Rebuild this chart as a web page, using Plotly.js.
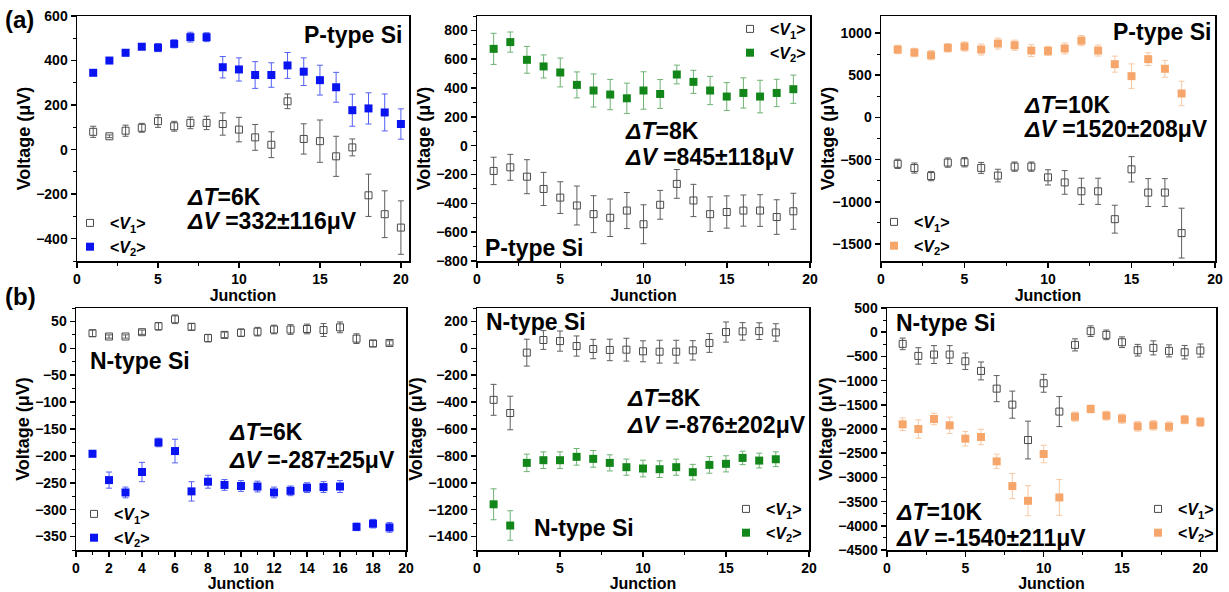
<!DOCTYPE html>
<html><head><meta charset="utf-8">
<script src="https://cdn.plot.ly/plotly-3.0.1.min.js"></script>
<style>html,body{margin:0;padding:0;background:#fff}</style>
</head><body><div id="chart" style="width:1229px;height:592px"></div>
<script>
// ---------- data ----------
const junctionA1 = [1,2,3,4,5,6,7,8,9,10,11,12,13,14,15,16,17,18,19,20];
const a1V1 = [80, 60, 85, 98, 128, 105, 120, 120, 115, 90, 55, 22, 217, 48, 38, -30, 10, -205, -290, -350];
const a1V1err = [25, 6, 25, 20, 28, 22, 26, 30, 50, 55, 58, 58, 33, 68, 95, 90, 38, 95, 105, 120];
const a1V2 = [345, 400, 435, 462, 458, 475, 505, 505, 370, 360, 335, 335, 378, 350, 312, 280, 177, 185, 167, 115];
const a1V2err = [6, 6, 14, 12, 18, 18, 22, 20, 48, 52, 60, 55, 58, 62, 67, 67, 72, 70, 83, 68];

const junctionA2 = [1,2,3,4,5,6,7,8,9,10,11,12,13,14,15,16,17,18,19];
const a2V1 = [-175, -150, -215, -300, -360, -415, -475, -500, -450, -545, -410, -265, -380, -475, -460, -450, -450, -495, -455];
const a2V1err = [95, 90, 118, 115, 110, 135, 128, 130, 125, 135, 100, 100, 112, 120, 112, 108, 110, 120, 125];
const a2V2 = [672, 719, 596, 550, 508, 422, 383, 355, 329, 383, 359, 494, 443, 383, 341, 366, 341, 366, 392];
const a2V2err = [108, 70, 93, 80, 100, 90, 115, 105, 105, 130, 100, 65, 80, 98, 97, 105, 113, 95, 98];

const junctionA3 = [1,2,3,4,5,6,7,8,9,10,11,12,13,14,15,16,17,18];
const a3V1 = [-550, -600, -695, -535, -531, -598, -689, -583, -583, -710, -770, -875, -875, -1205, -615, -890, -890, -1370];
const a3V1err = [55, 60, 55, 55, 55, 65, 75, 55, 55, 90, 140, 155, 155, 165, 150, 165, 165, 295];
const a3V2 = [803, 768, 736, 823, 839, 803, 874, 854, 791, 787, 815, 909, 791, 630, 488, 689, 575, 283];
const a3V2err = [50, 50, 55, 50, 55, 65, 65, 60, 70, 55, 65, 60, 65, 95, 145, 75, 100, 145];

const junctionB1 = [1,2,3,4,5,6,7,8,9,10,11,12,13,14,15,16,17,18,19];
const b1V1 = [28, 22, 22, 30, 41, 54, 40, 19, 25, 29, 31, 35, 35, 36, 34, 39, 18, 9, 10];
const b1V1err = [6, 3, 3, 4, 7, 8, 6, 7, 5, 7, 8, 8, 9, 9, 12, 10, 9, 6, 4];
const b1V2 = [-196, -245, -268, -230, -175, -191, -266, -248, -254, -256, -257, -268, -265, -259, -258, -257, -332, -326, -333];
const b1V2err = [6, 15, 10, 18, 8, 22, 18, 12, 10, 10, 10, 10, 9, 9, 10, 11, 7, 8, 9];

const junctionB2 = [1,2,3,4,5,6,7,8,9,10,11,12,13,14,15,16,17,18];
const b2V1 = [-383, -481, -32, 62, 54, 17, -5, -12, -10, -22, -25, -25, -15, 40, 121, 126, 128, 118];
const b2V1err = [115, 125, 100, 70, 75, 75, 72, 80, 85, 78, 85, 85, 72, 70, 75, 65, 62, 65];
const b2V2 = [-1160, -1318, -852, -832, -832, -807, -822, -852, -884, -894, -899, -884, -921, -867, -859, -815, -835, -825];
const b2V2err = [115, 110, 65, 62, 62, 62, 62, 60, 60, 62, 62, 60, 58, 62, 60, 50, 55, 55];

const junctionB3 = [1,2,3,4,5,6,7,8,9,10,11,12,13,14,15,16,17,18,19,20];
const b3V1 = [-241, -490, -462, -462, -600, -800, -1166, -1497, -2228, -1055, -1640, -262, 21, -55, -207, -372, -324, -386, -414, -379];
const b3V1err = [120, 170, 185, 185, 170, 185, 270, 280, 390, 185, 310, 125, 110, 100, 110, 120, 145, 125, 140, 135];
const b3V2 = [-1903, -2000, -1793, -1924, -2200, -2166, -2669, -3179, -3483, -2517, -3414, -1745, -1586, -1724, -1786, -1945, -1924, -1952, -1807, -1855];
const b3V2err = [130, 190, 120, 170, 150, 160, 150, 260, 310, 180, 370, 95, 80, 90, 95, 100, 100, 100, 85, 95];

const nameV1 = '&lt;<i>V</i><sub>1</sub>&gt;';
const nameV2 = '&lt;<i>V</i><sub>2</sub>&gt;';

// ---------- styling ----------
const W = 1229, H = 592;
const FONT = 'Liberation Sans, Arial, sans-serif';
const BLUE = '#0a14f0', BLUE_E = '#5560f5';
const GREEN = '#13861a', GREEN_E = '#6fb374';
const ORANGE = '#f6a66a', ORANGE_E = '#f7c8a4';
const GRAY = '#4a4a4a', GRAY_E = '#5e5e5e';

function v1Trace(x, y, e, ax, leg) {
  return {type:'scatter', mode:'markers', x:x, y:y, name:nameV1,
    xaxis:ax[0], yaxis:ax[1], legend:leg,
    marker:{symbol:'square-open', size:7, color:GRAY, line:{width:1, color:GRAY}},
    error_y:{type:'data', array:e, visible:true, color:GRAY_E, thickness:1, width:3}};
}
function v2Trace(x, y, e, ax, leg, c, ce) {
  return {type:'scatter', mode:'markers', x:x, y:y, name:nameV2,
    xaxis:ax[0], yaxis:ax[1], legend:leg,
    marker:{symbol:'square', size:8, color:c},
    error_y:{type:'data', array:e, visible:true, color:ce, thickness:1, width:3}};
}

const data = [
  v1Trace(junctionA1, a1V1, a1V1err, ['x','y'], 'legend'),
  v2Trace(junctionA1, a1V2, a1V2err, ['x','y'], 'legend', BLUE, BLUE_E),
  v1Trace(junctionA2, a2V1, a2V1err, ['x2','y2'], 'legend2'),
  v2Trace(junctionA2, a2V2, a2V2err, ['x2','y2'], 'legend2', GREEN, GREEN_E),
  v1Trace(junctionA3, a3V1, a3V1err, ['x3','y3'], 'legend3'),
  v2Trace(junctionA3, a3V2, a3V2err, ['x3','y3'], 'legend3', ORANGE, ORANGE_E),
  v1Trace(junctionB1, b1V1, b1V1err, ['x4','y4'], 'legend4'),
  v2Trace(junctionB1, b1V2, b1V2err, ['x4','y4'], 'legend4', BLUE, BLUE_E),
  v1Trace(junctionB2, b2V1, b2V1err, ['x5','y5'], 'legend5'),
  v2Trace(junctionB2, b2V2, b2V2err, ['x5','y5'], 'legend5', GREEN, GREEN_E),
  v1Trace(junctionB3, b3V1, b3V1err, ['x6','y6'], 'legend6'),
  v2Trace(junctionB3, b3V2, b3V2err, ['x6','y6'], 'legend6', ORANGE, ORANGE_E)
];

const tickfont = {family:FONT, size:14, color:'#000', weight:'bold'};
const xtitlefont = {family:FONT, size:16, color:'#000', weight:'bold'};
const ytitlefont = {family:FONT, size:18, color:'#000', weight:'bold'};

function xax(l, r, range, dtick) {
  return {domain:[l/W, r/W], range:range, dtick:dtick, tick0:0,
    ticks:'outside', ticklen:5, tickwidth:1.5, tickcolor:'#000',
    minor:{dtick:dtick/2, ticks:'outside', ticklen:3, tickwidth:1, tickcolor:'#000'},
    showline:true, mirror:true, linecolor:'#000', linewidth:1.5,
    showgrid:false, zeroline:false, tickfont:tickfont,
    title:{text:'Junction', font:xtitlefont, standoff:0}};
}
function yax(t, b, range, dtick) {
  return {domain:[1-b/H, 1-t/H], range:range, dtick:dtick,
    ticks:'outside', ticklen:5, tickwidth:1.5, tickcolor:'#000',
    minor:{dtick:dtick/2, ticks:'outside', ticklen:3, tickwidth:1, tickcolor:'#000'},
    showline:true, mirror:true, linecolor:'#000', linewidth:1.5,
    showgrid:false, zeroline:false, tickfont:tickfont,
    title:{text:'Voltage (μV)', font:ytitlefont}};
}

function leg(xPx, yPx) {
  return {x:xPx/W, y:1-yPx/H, xref:'paper', yref:'paper', xanchor:'left', yanchor:'top',
    bgcolor:'rgba(0,0,0,0)', borderwidth:0,
    font:{family:FONT, size:16, color:'#000', weight:'bold'}, itemwidth:30, tracegroupgap:0};
}

function ann(text, xPx, yPx, size, xanchor) {
  return {text:text, xref:'paper', yref:'paper', x:xPx/W, y:1-yPx/H,
    xanchor:xanchor||'left', yanchor:'middle', showarrow:false,
    font:{family:FONT, size:size, color:'#000', weight:'bold'}};
}

const layout = {
  width:W, height:H, margin:{l:0, r:0, t:0, b:0},
  paper_bgcolor:'#fff', plot_bgcolor:'#fff', showlegend:true,
  xaxis: Object.assign(xax(77, 409, [0, 20.5], 5), {anchor:'y'}),
  yaxis: Object.assign(yax(16, 261, [-500, 600], 200), {anchor:'x'}),
  xaxis2: Object.assign(xax(477, 810, [0, 20], 5), {anchor:'y2'}),
  yaxis2: Object.assign(yax(16, 261, [-800, 900], 200), {anchor:'x2'}),
  xaxis3: Object.assign(xax(881, 1215, [0, 20], 5), {anchor:'y3'}),
  yaxis3: Object.assign(yax(16, 261, [-1700, 1200], 500), {anchor:'x3'}),
  xaxis4: Object.assign(xax(76, 406, [0, 20], 2), {anchor:'y4'}),
  yaxis4: Object.assign(yax(308, 550, [-375, 75], 50), {anchor:'x4'}),
  xaxis5: Object.assign(xax(477, 809, [0, 20], 5), {anchor:'y5'}),
  yaxis5: Object.assign(yax(308, 550, [-1500, 300], 200), {anchor:'x5'}),
  xaxis6: Object.assign(xax(887, 1216, [0, 21], 5), {anchor:'y6'}),
  yaxis6: Object.assign(yax(308, 550, [-4500, 500], 500), {anchor:'x6'}),
  legend: leg(70, 206),
  legend2: leg(730, 12),
  legend3: leg(874, 205),
  legend4: leg(74, 497),
  legend5: leg(726, 492),
  legend6: leg(1138, 492),
  annotations: [
    ann('(a)', 3, 20, 24),
    ann('(b)', 3, 296, 24),
    ann('P-type Si', 302, 35, 23),
    ann('<i>ΔT</i>=6K', 185, 197, 23),
    ann('<i>ΔV</i> =332±116μV', 185, 221, 23),
    ann('P-type Si', 483, 248, 23),
    ann('<i>ΔT</i>=8K', 623, 131, 23),
    ann('<i>ΔV</i> =845±118μV', 623, 157, 23),
    ann('P-type Si', 1111, 32, 23),
    ann('<i>ΔT</i>=10K', 1022, 105, 23),
    ann('<i>ΔV</i> =1520±208μV', 1022, 129, 23),
    ann('N-type Si', 88, 361, 23),
    ann('<i>ΔT</i>=6K', 227, 432, 23),
    ann('<i>ΔV</i> =-287±25μV', 227, 460, 23),
    ann('N-type Si', 484, 322, 23),
    ann('N-type Si', 532, 528, 23),
    ann('<i>ΔT</i>=8K', 625, 398, 23),
    ann('<i>ΔV</i> =-876±202μV', 625, 425, 23),
    ann('N-type Si', 894, 323, 23),
    ann('<i>ΔT</i>=10K', 894, 512, 23),
    ann('<i>ΔV</i> =-1540±211μV', 894, 538, 23)
  ]
};

Plotly.newPlot('chart', data, layout, {staticPlot:true, displayModeBar:false});
</script></body></html>
